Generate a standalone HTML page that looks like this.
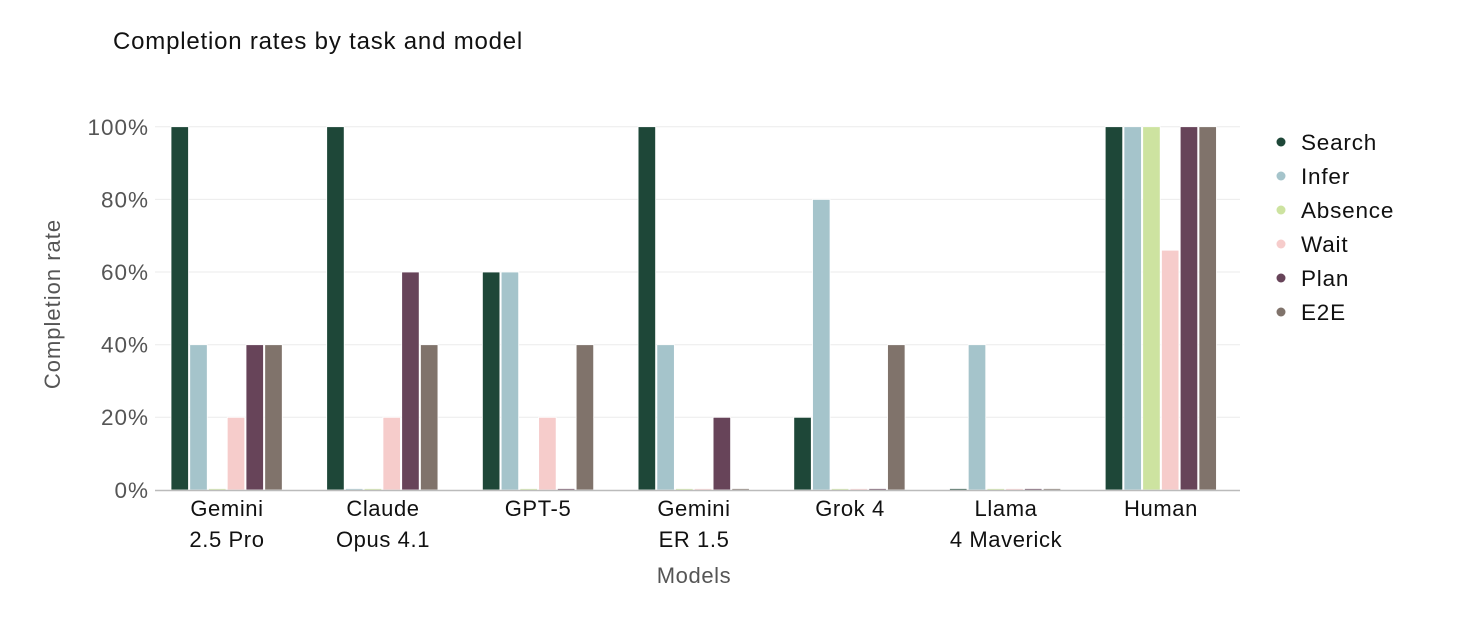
<!DOCTYPE html>
<html><head><meta charset="utf-8"><style>
html,body{margin:0;padding:0;background:#fff;}
svg{display:block;font-family:"Liberation Sans",sans-serif;}
</style></head><body>
<svg width="1480" height="634" viewBox="0 0 1480 634">
<text x="113" y="49" font-size="24" letter-spacing="0.8" fill="#111">Completion rates by task and model</text>
<g stroke="#ebebeb" stroke-width="1">
<line x1="155" x2="1240" y1="126.7" y2="126.7"/>
<line x1="155" x2="1240" y1="199.4" y2="199.4"/>
<line x1="155" x2="1240" y1="272" y2="272"/>
<line x1="155" x2="1240" y1="344.7" y2="344.7"/>
<line x1="155" x2="1240" y1="417.3" y2="417.3"/>
</g>
<g font-size="22.5" fill="#555" text-anchor="end" letter-spacing="1">
<text x="149" y="135">100%</text>
<text x="149" y="207.5">80%</text>
<text x="149" y="280">60%</text>
<text x="149" y="352.5">40%</text>
<text x="149" y="425">20%</text>
<text x="149" y="498">0%</text>
</g>
<text transform="translate(60,304) rotate(-90)" font-size="22" letter-spacing="1" fill="#555" text-anchor="middle">Completion rate</text>
<g stroke="#fff" stroke-width="0.8">
<rect x="171" y="126.7" width="17.5" height="363.3" fill="#1e4738"/>
<rect x="189.75" y="344.7" width="17.5" height="145.3" fill="#a5c4cb"/>
<rect x="208.5" y="488.5" width="17.5" height="1.5" fill="#cde3a0"/>
<rect x="227.25" y="417.3" width="17.5" height="72.7" fill="#f6cccb"/>
<rect x="246" y="344.7" width="17.5" height="145.3" fill="#674459"/>
<rect x="264.75" y="344.7" width="17.5" height="145.3" fill="#80736b"/>
<rect x="326.7" y="126.7" width="17.5" height="363.3" fill="#1e4738"/>
<rect x="345.45" y="488.5" width="17.5" height="1.5" fill="#a5c4cb"/>
<rect x="364.2" y="488.5" width="17.5" height="1.5" fill="#cde3a0"/>
<rect x="382.95" y="417.3" width="17.5" height="72.7" fill="#f6cccb"/>
<rect x="401.7" y="272" width="17.5" height="218" fill="#674459"/>
<rect x="420.45" y="344.7" width="17.5" height="145.3" fill="#80736b"/>
<rect x="482.4" y="272" width="17.5" height="218" fill="#1e4738"/>
<rect x="501.15" y="272" width="17.5" height="218" fill="#a5c4cb"/>
<rect x="519.9" y="488.5" width="17.5" height="1.5" fill="#cde3a0"/>
<rect x="538.65" y="417.3" width="17.5" height="72.7" fill="#f6cccb"/>
<rect x="557.4" y="488.5" width="17.5" height="1.5" fill="#674459"/>
<rect x="576.15" y="344.7" width="17.5" height="145.3" fill="#80736b"/>
<rect x="638.1" y="126.7" width="17.5" height="363.3" fill="#1e4738"/>
<rect x="656.85" y="344.7" width="17.5" height="145.3" fill="#a5c4cb"/>
<rect x="675.6" y="488.5" width="17.5" height="1.5" fill="#cde3a0"/>
<rect x="694.35" y="488.5" width="17.5" height="1.5" fill="#f6cccb"/>
<rect x="713.1" y="417.3" width="17.5" height="72.7" fill="#674459"/>
<rect x="731.85" y="488.5" width="17.5" height="1.5" fill="#80736b"/>
<rect x="793.8" y="417.3" width="17.5" height="72.7" fill="#1e4738"/>
<rect x="812.55" y="199.4" width="17.5" height="290.6" fill="#a5c4cb"/>
<rect x="831.3" y="488.5" width="17.5" height="1.5" fill="#cde3a0"/>
<rect x="850.05" y="488.5" width="17.5" height="1.5" fill="#f6cccb"/>
<rect x="868.8" y="488.5" width="17.5" height="1.5" fill="#674459"/>
<rect x="887.55" y="344.7" width="17.5" height="145.3" fill="#80736b"/>
<rect x="949.5" y="488.5" width="17.5" height="1.5" fill="#1e4738"/>
<rect x="968.25" y="344.7" width="17.5" height="145.3" fill="#a5c4cb"/>
<rect x="987" y="488.5" width="17.5" height="1.5" fill="#cde3a0"/>
<rect x="1005.75" y="488.5" width="17.5" height="1.5" fill="#f6cccb"/>
<rect x="1024.5" y="488.5" width="17.5" height="1.5" fill="#674459"/>
<rect x="1043.25" y="488.5" width="17.5" height="1.5" fill="#80736b"/>
<rect x="1105.2" y="126.7" width="17.5" height="363.3" fill="#1e4738"/>
<rect x="1123.95" y="126.7" width="17.5" height="363.3" fill="#a5c4cb"/>
<rect x="1142.7" y="126.7" width="17.5" height="363.3" fill="#cde3a0"/>
<rect x="1161.45" y="250.2" width="17.5" height="239.8" fill="#f6cccb"/>
<rect x="1180.2" y="126.7" width="17.5" height="363.3" fill="#674459"/>
<rect x="1198.95" y="126.7" width="17.5" height="363.3" fill="#80736b"/>
</g>
<line x1="155" x2="1240" y1="490.5" y2="490.5" stroke="#bbb" stroke-width="1.5"/>
<g font-size="22" letter-spacing="0.6" fill="#111" text-anchor="middle">
<text x="227" y="516">Gemini</text><text x="227" y="547">2.5 Pro</text>
<text x="383" y="516">Claude</text><text x="383" y="547">Opus 4.1</text>
<text x="538" y="516">GPT-5</text>
<text x="694" y="516">Gemini</text><text x="694" y="547">ER 1.5</text>
<text x="850" y="516">Grok 4</text>
<text x="1006" y="516">Llama</text><text x="1006" y="547">4 Maverick</text>
<text x="1161" y="516">Human</text>
</g>
<text x="694" y="583" font-size="22" letter-spacing="0.6" fill="#555" text-anchor="middle">Models</text>
<g font-size="22.5" letter-spacing="0.8" fill="#111">
<circle cx="1281" cy="142" r="4.5" fill="#1e4738"/><text x="1301" y="150">Search</text>
<circle cx="1281" cy="176" r="4.5" fill="#a5c4cb"/><text x="1301" y="184">Infer</text>
<circle cx="1281" cy="210" r="4.5" fill="#cde3a0"/><text x="1301" y="218">Absence</text>
<circle cx="1281" cy="244" r="4.5" fill="#f6cccb"/><text x="1301" y="252">Wait</text>
<circle cx="1281" cy="278" r="4.5" fill="#674459"/><text x="1301" y="286">Plan</text>
<circle cx="1281" cy="312" r="4.5" fill="#80736b"/><text x="1301" y="320">E2E</text>
</g>
</svg>
</body></html>
